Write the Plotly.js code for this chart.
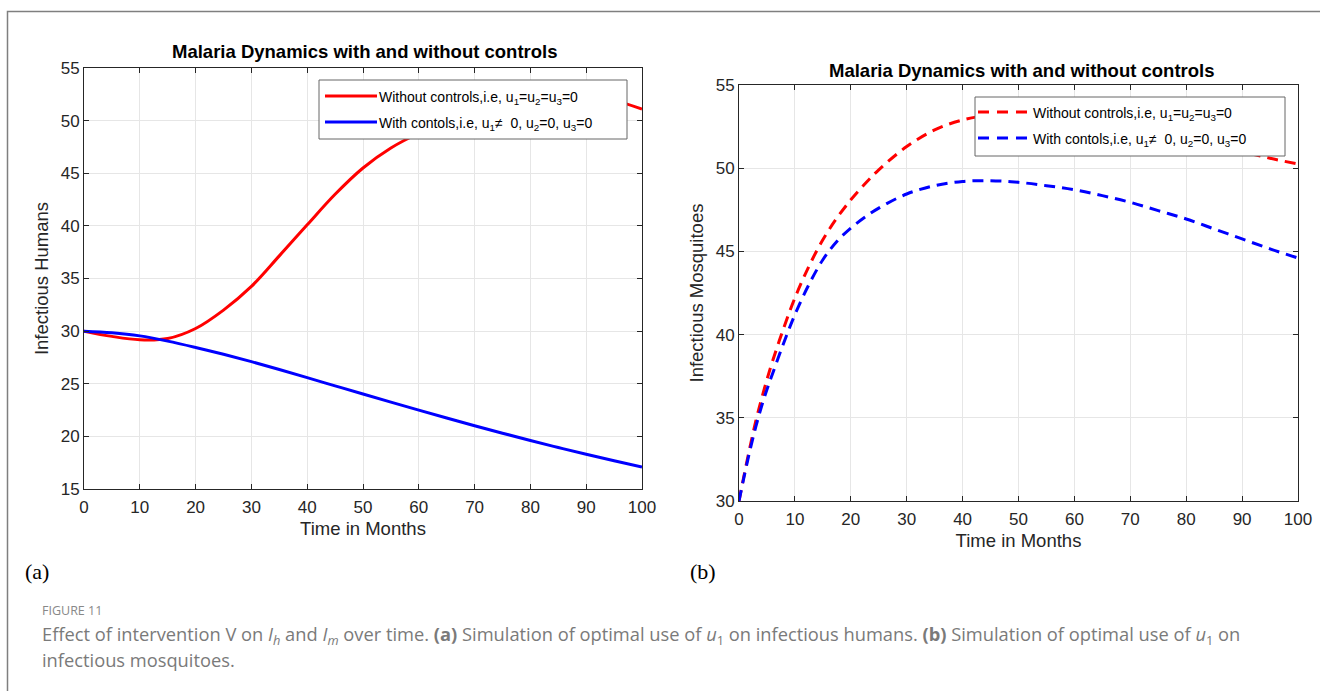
<!DOCTYPE html>
<html>
<head>
<meta charset="utf-8">
<script src="https://cdn.plot.ly/plotly-3.0.1.min.js"></script>
<style>
html,body{margin:0;padding:0;background:#fff;}
#chart{width:1320px;height:691px;}
</style>
</head>
<body>
<div id="chart"></div>
<script>
// ---- Data: (a) Infectious humans ----
const timeHumans = [0,5,10,15,20,25,30,35,40,45,50,55,60,65,70,75,80,85,90,95,100];
const humansWithout = [30.0,29.5,29.18,29.3,30.25,32.0,34.25,37.15,40.1,43.0,45.5,47.4,48.8,49.9,50.8,51.5,52.0,52.3,52.25,51.9,51.1];
const humansWith = [30.0,29.85,29.55,29.05,28.45,27.8,27.1,26.35,25.58,24.8,24.02,23.25,22.49,21.74,21.01,20.3,19.61,18.94,18.3,17.68,17.08];

// ---- Data: (b) Infectious mosquitoes ----
const timeMosq = [0,1,2,3,4,5,6,8,10,12.5,15,17.5,20,22.5,25,30,35,40,45,50,55,60,65,70,75,80,85,90,95,100];
const mosqWithout = [30,31.7,33.3,34.8,36.1,37.3,38.4,40.4,42.2,44.1,45.7,47.0,48.1,49.05,49.9,51.3,52.3,52.9,53.2,53.35,53.3,53.15,52.9,52.6,52.2,51.8,51.4,51.0,50.6,50.25];
const mosqWith = [30,31.6,33.1,34.45,35.65,36.7,37.65,39.5,41.2,43.0,44.5,45.6,46.4,47.05,47.6,48.45,48.95,49.2,49.25,49.15,48.95,48.7,48.35,47.95,47.45,46.95,46.35,45.75,45.15,44.6];

// ---- Text ----
const plotTitle = "Malaria Dynamics with and without controls";
const legendWithout = "Without controls,i.e, u<sub>1</sub>=u<sub>2</sub>=u<sub>3</sub>=0";
const legendWith = "With contols,i.e, u<sub>1</sub>\u2260  0, u<sub>2</sub>=0, u<sub>3</sub>=0";
const xTitle = "Time in Months";
const yTitleA = "Infectious Humans";
const yTitleB = "Infectious Mosquitoes";
const xTicks = [0,10,20,30,40,50,60,70,80,90,100];
const yTicksA = [15,20,25,30,35,40,45,50,55];
const yTicksB = [30,35,40,45,50,55];

const W = 1320, H = 691;
const px = x => x / W;
const py = y => 1 - y / H;
const FONT = "Liberation Sans, Arial, Helvetica, sans-serif";
const AX = "#262626";
const RED = "#ff0000", BLUE = "#0000ff";
const DASH = "11px,7px";

const traces = [
  {x: timeHumans, y: humansWithout, name: legendWithout, mode: "lines",
   line: {color: RED, width: 3, shape: "spline", smoothing: 1}, xaxis: "x", yaxis: "y"},
  {x: timeHumans, y: humansWith, name: legendWith, mode: "lines",
   line: {color: BLUE, width: 3, shape: "spline", smoothing: 1}, xaxis: "x", yaxis: "y"},
  {x: timeMosq, y: mosqWithout, name: legendWithout, mode: "lines",
   line: {color: RED, width: 3, dash: DASH, shape: "spline", smoothing: 1}, xaxis: "x2", yaxis: "y2"},
  {x: timeMosq, y: mosqWith, name: legendWith, mode: "lines",
   line: {color: BLUE, width: 3, dash: DASH, shape: "spline", smoothing: 1}, xaxis: "x2", yaxis: "y2"}
];

function xAxis(domain, anchor) {
  return {
    domain: domain, anchor: anchor, range: [0, 100], tickvals: xTicks, ticktext: xTicks.map(String),
    ticks: "inside", ticklen: 5, tickcolor: AX, mirror: "ticks", showline: true, linecolor: AX, linewidth: 1,
    showgrid: true, gridcolor: "#e6e6e6", gridwidth: 1, zeroline: false, ticklabelstandoff: 3,
    tickfont: {family: FONT, size: 17, color: AX},
    title: {text: xTitle, font: {family: FONT, size: 18.5, color: AX}, standoff: 5},
    fixedrange: true
  };
}
function yAxis(domain, anchor, range, ticks, title) {
  return {
    domain: domain, anchor: anchor, range: range, tickvals: ticks, ticktext: ticks.map(String),
    ticks: "inside", ticklen: 5, tickcolor: AX, mirror: "ticks", showline: true, linecolor: AX, linewidth: 1,
    showgrid: true, gridcolor: "#e6e6e6", gridwidth: 1, zeroline: false,
    tickfont: {family: FONT, size: 17, color: AX},
    title: {text: title, font: {family: FONT, size: 18.5, color: AX}, standoff: 7},
    fixedrange: true
  };
}

// manual legend boxes (pixel geometry)
function legendItems(box, rows, sampleX0, sampleX1, textX, dash) {
  const shapes = [
    {type: "rect", xref: "paper", yref: "paper", x0: px(box[0]), x1: px(box[2]), y0: py(box[1]), y1: py(box[3]),
     line: {color: "#666666", width: 1}, fillcolor: "#ffffff", layer: "above"},
    {type: "line", xref: "paper", yref: "paper", x0: px(sampleX0), x1: px(sampleX1), y0: py(rows[0]), y1: py(rows[0]),
     line: {color: RED, width: 3, dash: dash}, layer: "above"},
    {type: "line", xref: "paper", yref: "paper", x0: px(sampleX0), x1: px(sampleX1), y0: py(rows[1]), y1: py(rows[1]),
     line: {color: BLUE, width: 3, dash: dash}, layer: "above"}
  ];
  const anns = [
    {text: legendWithout, xref: "paper", yref: "paper", x: px(textX), y: py(rows[0] + 2), xanchor: "left", yanchor: "middle",
     showarrow: false, font: {family: FONT, size: 14, color: "#000"}},
    {text: legendWith, xref: "paper", yref: "paper", x: px(textX), y: py(rows[1] + 2), xanchor: "left", yanchor: "middle",
     showarrow: false, font: {family: FONT, size: 14, color: "#000"}}
  ];
  return {shapes, anns};
}
const legA = legendItems([319, 80, 627, 139], [96, 122], 325, 377, 377, "solid");
const legB = legendItems([975, 97, 1285, 156], [112, 138], 978, 1032, 1031, "11px,8px");

const captionFont = {family: "Open Sans, Noto Sans, sans-serif", size: 18.3, color: "#7a7a7a"};

const layout = {
  width: W, height: H, margin: {l: 0, r: 0, t: 0, b: 0},
  paper_bgcolor: "#ffffff", plot_bgcolor: "#ffffff", showlegend: false,
  xaxis: xAxis([px(84), px(642)], "y"),
  yaxis: yAxis([py(489), py(68)], "x", [15, 55], yTicksA, yTitleA),
  xaxis2: xAxis([px(739), px(1298)], "y2"),
  yaxis2: yAxis([py(501), py(85)], "x2", [30, 55], yTicksB, yTitleB),
  annotations: [
    {text: "<b>" + plotTitle + "</b>", xref: "paper", yref: "paper", x: px(365), y: py(52), xanchor: "center", yanchor: "middle",
     showarrow: false, font: {family: FONT, size: 18.5, color: "#000"}},
    {text: "<b>" + plotTitle + "</b>", xref: "paper", yref: "paper", x: px(1021), y: py(70), xanchor: "center", yanchor: "middle",
     showarrow: false, font: {family: FONT, size: 18.5, color: "#000"}},
    {text: "(a)", xref: "paper", yref: "paper", x: px(23), y: py(571), xanchor: "left", yanchor: "middle",
     showarrow: false, font: {family: "Liberation Serif, Times New Roman, serif", size: 22, color: "#000"}},
    {text: "(b)", xref: "paper", yref: "paper", x: px(688), y: py(571), xanchor: "left", yanchor: "middle",
     showarrow: false, font: {family: "Liberation Serif, Times New Roman, serif", size: 22, color: "#000"}},
    {text: "FIGURE 11", xref: "paper", yref: "paper", x: px(40), y: py(610), xanchor: "left", yanchor: "middle",
     showarrow: false, font: {family: "Open Sans, Noto Sans, sans-serif", size: 12.5, color: "#888888"}},
    {text: "Effect of intervention V on <i>I<sub>h</sub></i> and <i>I<sub>m</sub></i> over time. <b>(a)</b> Simulation of optimal use of <i>u</i><sub>1</sub> on infectious humans. <b>(b)</b> Simulation of optimal use of <i>u</i><sub>1</sub> on",
     xref: "paper", yref: "paper", x: px(40), y: py(635), xanchor: "left", yanchor: "middle",
     showarrow: false, font: captionFont},
    {text: "infectious mosquitoes.", xref: "paper", yref: "paper", x: px(40), y: py(659), xanchor: "left", yanchor: "middle",
     showarrow: false, font: captionFont}
  ].concat(legA.anns, legB.anns),
  shapes: [
    {type: "rect", xref: "paper", yref: "paper", x0: px(7.5), x1: px(1330), y0: py(11.5), y1: py(700),
     line: {color: "#7f7f7f", width: 1.5}, fillcolor: "rgba(0,0,0,0)", layer: "below"}
  ].concat(legA.shapes, legB.shapes)
};

Plotly.newPlot("chart", traces, layout, {displayModeBar: false, staticPlot: true});
</script>
</body>
</html>
